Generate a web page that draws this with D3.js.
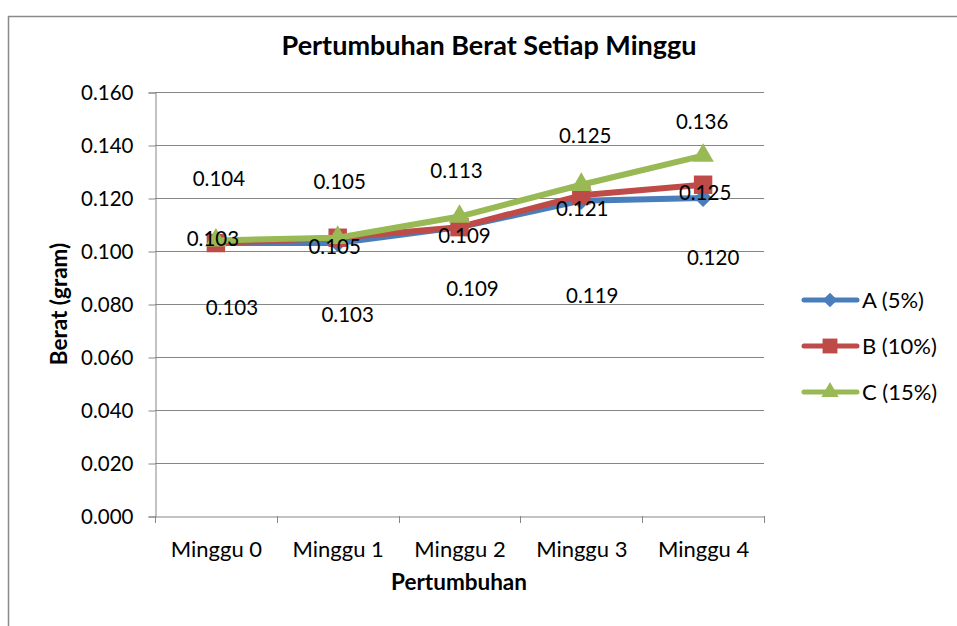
<!DOCTYPE html>
<meta charset="utf-8">
<script src="https://d3js.org/d3.v7.min.js"></script>
<style>
  body { margin: 0; background: #fff; }
  text { font-family: Lato, "Open Sans", sans-serif; fill: #000; }
</style>
<div id="chart"></div>
<script>

// data
var categories = ["Minggu 0", "Minggu 1", "Minggu 2", "Minggu 3", "Minggu 4"];
var seriesNames = ["A (5%)", "B (10%)", "C (15%)"];
var valuesA = [0.103, 0.103, 0.109, 0.119, 0.120];
var valuesB = [0.103, 0.105, 0.109, 0.121, 0.125];
var valuesC = [0.104, 0.105, 0.113, 0.125, 0.136];
var yTicks = [0, 0.02, 0.04, 0.06, 0.08, 0.10, 0.12, 0.14, 0.16];

// label nudges (data labels were dragged around in the original)
var labelDx = [[16, 10, 13, 11, 10], [-3, -3, 5, 1, 2], [3, 2, -3, 4, -1]];
var labelDy = [[65, 72, 62, 95, 60], [-4, 9, 9, 13, 8], [-62, -56, -46, -49, -34]];

var colors = ["#4A7EBB", "#BE4B48", "#98B954"];
var shapes = ["diamond", "square", "triangle"];
var allValues = [valuesA, valuesB, valuesC];

var W = 957, H = 626;
var plot = {left: 155, right: 764, top: 92, bottom: 516};

var svg = d3.select("#chart").append("svg")
  .attr("width", W).attr("height", H);

// outer chart border
svg.append("path")
  .attr("d", "M8.5," + H + "V16.5H" + W)
  .attr("fill", "none").attr("stroke", "#8a8a8a").attr("stroke-width", 1.5);

var x = d3.scaleBand().domain(categories).range([plot.left, plot.right]).padding(0);
var y = d3.scaleLinear().domain([0, 0.16]).range([plot.bottom, plot.top]);
function cx(c) { return x(c) + x.bandwidth() / 2; }

// gridlines
svg.append("g").selectAll("line").data(yTicks.slice(1)).enter().append("line")
  .attr("x1", plot.left).attr("x2", plot.right)
  .attr("y1", function(d) { return Math.round(y(d)) + 0.5; })
  .attr("y2", function(d) { return Math.round(y(d)) + 0.5; })
  .attr("stroke", "#868686").attr("stroke-width", 1);

// y axis
var yAxis = svg.append("g")
  .attr("transform", "translate(" + (plot.left + 0.5) + ",0.5)")
  .call(d3.axisLeft(y).tickValues(yTicks).tickFormat(d3.format(".3f")).tickSize(7).tickPadding(15));
yAxis.selectAll("line, path").attr("stroke", "#868686");
yAxis.selectAll("text").style("font-size", "20.5px").attr("fill", "#000");

// x axis
var xAxis = svg.append("g")
  .attr("transform", "translate(0.5," + (plot.bottom + 0.5) + ")")
  .call(d3.axisBottom(x).tickSize(0).tickPadding(25));
xAxis.selectAll("path").attr("stroke", "#868686");
xAxis.selectAll("text").style("font-size", "22px").attr("fill", "#000");
// category boundary ticks
svg.append("g").selectAll("line")
  .data(categories.concat(["end"])).enter().append("line")
  .attr("x1", function(d, i) { return Math.round(plot.left + i * x.bandwidth()) + 0.5; })
  .attr("x2", function(d, i) { return Math.round(plot.left + i * x.bandwidth()) + 0.5; })
  .attr("y1", plot.bottom).attr("y2", plot.bottom + 7)
  .attr("stroke", "#868686");

// marker helper
function markerPath(shape, k) {
  k = k || 1;
  if (shape === "diamond") return d3.symbol().type(d3.symbolSquare).size(165 * k)();
  if (shape === "square") return d3.symbol().type(d3.symbolSquare).size(340 * k)();
  return d3.symbol().type(d3.symbolTriangle).size(200 * k)();
}
function markerTransform(shape, px, py) {
  return "translate(" + px + "," + py + ")" + (shape === "diamond" ? " rotate(45)" : "");
}

var line = d3.line()
  .x(function(d, i) { return cx(categories[i]); })
  .y(function(d) { return y(d); });

// series lines + markers
allValues.forEach(function(vals, s) {
  var g = svg.append("g");
  g.append("path").datum(vals)
    .attr("d", line).attr("fill", "none")
    .attr("stroke", colors[s]).attr("stroke-width", 6)
    .attr("stroke-linejoin", "round");
  g.selectAll("path.m").data(vals).enter().append("path")
    .attr("class", "m")
    .attr("d", markerPath(shapes[s]))
    .attr("transform", function(d, i) { return markerTransform(shapes[s], cx(categories[i]), y(d)); })
    .attr("fill", colors[s]);
});

// data labels
allValues.forEach(function(vals, s) {
  svg.append("g").selectAll("text").data(vals).enter().append("text")
    .attr("x", function(d, i) { return cx(categories[i]) + labelDx[s][i]; })
    .attr("y", function(d, i) { return y(d) + labelDy[s][i]; })
    .attr("dy", "0.35em")
    .attr("text-anchor", "middle")
    .style("font-size", "20.5px")
    .text(function(d) { return d3.format(".3f")(d); });
});

// titles
svg.append("text").attr("x", 489).attr("y", 55)
  .attr("text-anchor", "middle").style("font-size", "27px").style("font-weight", "bold")
  .text("Pertumbuhan Berat Setiap Minggu");
svg.append("text").attr("x", 459).attr("y", 590)
  .attr("text-anchor", "middle").style("font-size", "22.5px").style("font-weight", "bold")
  .text("Pertumbuhan");
svg.append("text")
  .attr("transform", "translate(59,304) rotate(-90)")
  .attr("dy", "0.35em")
  .attr("text-anchor", "middle").style("font-size", "22.5px").style("font-weight", "bold")
  .text("Berat (gram)");

// legend
var legendY = [300, 346, 392];
seriesNames.forEach(function(name, s) {
  var g = svg.append("g").attr("transform", "translate(0," + legendY[s] + ")");
  g.append("line").attr("x1", 804).attr("x2", 857).attr("y1", 0).attr("y2", 0)
    .attr("stroke", colors[s]).attr("stroke-width", 5).attr("stroke-linecap", "round");
  g.append("path").attr("d", markerPath(shapes[s], 0.65))
    .attr("transform", markerTransform(shapes[s], 830, 0)).attr("fill", colors[s]);
  g.append("text").attr("x", 862).attr("y", 0).attr("dy", "0.35em")
    .style("font-size", "22px").text(name);
});

</script>
